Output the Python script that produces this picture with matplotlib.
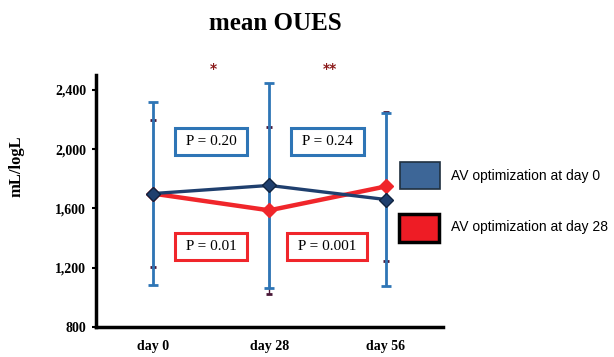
import numpy as np
import matplotlib.pyplot as plt
from matplotlib.patches import Rectangle

# data
days = ['day 0', 'day 28', 'day 56']
oues_av0 = [1700, 1755, 1660]      # AV optimization at day 0
err_av0 = [620, 692, 586]
oues_av28 = [1700, 1587, 1748]     # AV optimization at day 28
err_av28 = [495, 564, 503]
p_av0 = ['P = 0.20', 'P = 0.24']
p_av28 = ['P = 0.01', 'P = 0.001']
stars = ['*', '**']
yticks = [800, 1200, 1600, 2000, 2400]

serif = 'Liberation Serif'
navy = '#1f3f6e'
barblue = '#2e75b6'
red = '#f0262b'

x = np.arange(len(days))

fig = plt.figure(figsize=(6.14, 3.57), dpi=100)
ax = fig.add_axes([0.156, 0.084, 0.565, 0.706])

# red series error bars (mostly hidden behind the blue ones)
ax.errorbar(x, oues_av28, yerr=err_av28, fmt='none', ecolor='#4a1838',
            elinewidth=1, capsize=2.5, capthick=2, zorder=2)
# blue error bars
ax.errorbar(x, oues_av0, yerr=err_av0, fmt='none', ecolor=barblue,
            elinewidth=2, capsize=3.5, capthick=2, zorder=3)

ax.plot(x, oues_av28, color=red, lw=3.2, marker='D', ms=7,
        mfc=red, mec=red, zorder=4)
ax.plot(x, oues_av0, color=navy, lw=2.4, marker='D', ms=7,
        mfc=navy, mec='#0f2340', zorder=5)

# p-value boxes between the time points
for i, txt in enumerate(p_av0):
    ax.text(i + 0.5, 2050, f' {txt} ', ha='center', va='center', family=serif,
            fontsize=11, zorder=6,
            bbox=dict(boxstyle='square,pad=0.45', fc='white', ec=barblue, lw=2.2))
for i, txt in enumerate(p_av28):
    ax.text(i + 0.5, 1345, f' {txt} ', ha='center', va='center', family=serif,
            fontsize=11, zorder=6,
            bbox=dict(boxstyle='square,pad=0.45', fc='white', ec=red, lw=2.2))
for i, s in enumerate(stars):
    ax.text(i + 0.52, 2540, s, ha='center', va='center', color='#8b1a1a',
            fontsize=10, fontweight='bold', clip_on=False)

ax.set_xlim(-0.49, 2.49)
ax.set_ylim(800, 2500)
ax.set_xticks(x)
ax.set_xticklabels(days, family=serif, fontsize=10, fontweight='bold')
ax.set_yticks(yticks)
ax.set_yticklabels([f'{v:,}' for v in yticks], family=serif, fontsize=10,
                   fontweight='bold')
ax.tick_params(axis='x', length=0, pad=9)
ax.tick_params(axis='y', length=3, width=1.5, pad=4)
for side in ['top', 'right']:
    ax.spines[side].set_visible(False)
for side in ['left', 'bottom']:
    ax.spines[side].set_linewidth(2.5)

ax.set_ylabel('mL/logL', family=serif, fontsize=12, fontweight='bold')
ax.yaxis.set_label_coords(-0.205, 0.64)
fig.text(0.448, 0.935, 'mean OUES', ha='center', va='center', family=serif,
         fontsize=18, fontweight='bold')

# legend swatches
W, H = 614, 357
fig.patches.append(Rectangle((400 / W, 1 - 189 / H), 40 / W, 27 / H,
                             transform=fig.transFigure, fc='#3d6697',
                             ec='#203040', lw=1.2))
fig.patches.append(Rectangle((399 / W, 1 - 242 / H), 40 / W, 28 / H,
                             transform=fig.transFigure, fc='#ee1c25',
                             ec='black', lw=2.5))
fig.text(451 / W, 1 - 176 / H, 'AV optimization at day 0', va='center',
         family='Liberation Sans', fontsize=10)
fig.text(451 / W, 1 - 227 / H, 'AV optimization at day 28', va='center',
         family='Liberation Sans', fontsize=10)

fig.savefig('out.png', dpi=100)
